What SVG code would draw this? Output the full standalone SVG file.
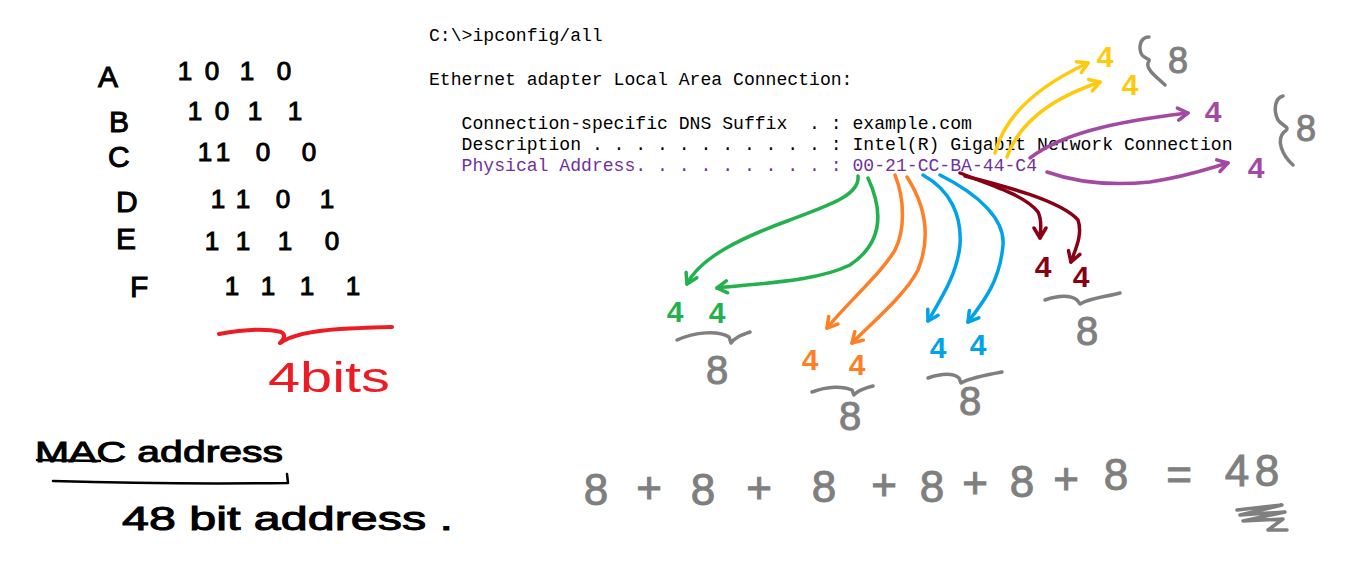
<svg xmlns="http://www.w3.org/2000/svg" width="1352" height="563" viewBox="0 0 1352 563">
<style>
.term{font-family:"Liberation Mono","Courier New",monospace;font-size:18.1px;fill:#000;white-space:pre}
.mac{fill:#7030A0}
.hand{font-family:"Liberation Sans",Arial,sans-serif;fill:#000;stroke:#000;stroke-width:1}
.bin{font-size:26px;text-anchor:middle}
.let{font-size:30px}
.four{font-family:"Liberation Sans",Arial,sans-serif;font-size:30px;font-weight:bold;text-anchor:middle}
.eight{font-family:"Liberation Sans",Arial,sans-serif;font-size:40px;fill:#7F7F7F;stroke:#7F7F7F;stroke-width:1;text-anchor:middle}
.stroke{fill:none;stroke-linecap:round;stroke-linejoin:round}
.arr{fill:none;stroke-width:3.5;stroke-linecap:round;stroke-linejoin:round}
.brace{fill:none;stroke:#7F7F7F;stroke-width:3.5;stroke-linecap:round;stroke-linejoin:round}
</style>
<defs>
<marker id="ah-green" viewBox="0 0 16 16" refX="13" refY="8" markerWidth="16" markerHeight="16" orient="auto" markerUnits="userSpaceOnUse"><path d="M3,2 L13,8 L3,14" fill="none" stroke="#22B14C" stroke-width="3.5" stroke-linecap="round" stroke-linejoin="round"/></marker>
<marker id="ah-orange" viewBox="0 0 16 16" refX="13" refY="8" markerWidth="16" markerHeight="16" orient="auto" markerUnits="userSpaceOnUse"><path d="M3,2 L13,8 L3,14" fill="none" stroke="#FF7F27" stroke-width="3.5" stroke-linecap="round" stroke-linejoin="round"/></marker>
<marker id="ah-blue" viewBox="0 0 16 16" refX="13" refY="8" markerWidth="16" markerHeight="16" orient="auto" markerUnits="userSpaceOnUse"><path d="M3,2 L13,8 L3,14" fill="none" stroke="#00A2E8" stroke-width="3.5" stroke-linecap="round" stroke-linejoin="round"/></marker>
<marker id="ah-dred" viewBox="0 0 16 16" refX="13" refY="8" markerWidth="16" markerHeight="16" orient="auto" markerUnits="userSpaceOnUse"><path d="M3,2 L13,8 L3,14" fill="none" stroke="#880015" stroke-width="3.5" stroke-linecap="round" stroke-linejoin="round"/></marker>
<marker id="ah-yellow" viewBox="0 0 16 16" refX="13" refY="8" markerWidth="16" markerHeight="16" orient="auto" markerUnits="userSpaceOnUse"><path d="M3,2 L13,8 L3,14" fill="none" stroke="#FFC90E" stroke-width="3.5" stroke-linecap="round" stroke-linejoin="round"/></marker>
<marker id="ah-purple" viewBox="0 0 16 16" refX="13" refY="8" markerWidth="16" markerHeight="16" orient="auto" markerUnits="userSpaceOnUse"><path d="M3,2 L13,8 L3,14" fill="none" stroke="#A349A4" stroke-width="3.5" stroke-linecap="round" stroke-linejoin="round"/></marker>
</defs>
<rect width="1352" height="563" fill="#fff"/>

<g id="terminal">
<text class="term" x="429" y="41">C:\&gt;ipconfig/all</text>
<text class="term" x="429" y="84.5">Ethernet adapter Local Area Connection:</text>
<text class="term" x="461.6" y="129" xml:space="preserve">Connection-specific DNS Suffix  . : example.com</text>
<text class="term" x="461.6" y="149.5" xml:space="preserve">Description . . . . . . . . . . . : Intel(R) Gigabit Network Connection</text>
<text class="term mac" x="461.6" y="170.5" xml:space="preserve">Physical Address. . . . . . . . . : 00-21-CC-BA-44-C4</text>
</g>

<g id="hex-table">
<text class="hand let" x="98" y="87">A</text>
<text class="hand let" x="109" y="132">B</text>
<text class="hand let" x="108" y="167">C</text>
<text class="hand let" x="116" y="212">D</text>
<text class="hand let" x="116" y="249">E</text>
<text class="hand let" x="130" y="297">F</text>
<text class="hand bin" x="185 212 247 284" y="80">1010</text>
<text class="hand bin" x="195 222 255 295" y="120">1011</text>
<text class="hand bin" x="205 223 263 309" y="161">1100</text>
<text class="hand bin" x="218 243 283 327" y="208">1101</text>
<text class="hand bin" x="212 243 285 332" y="250">1110</text>
<text class="hand bin" x="232 268 307 353" y="295">1111</text>
<path class="stroke" stroke="#ED1C24" stroke-width="4" d="M219,334 C240,330 265,328 281,332 C287,335 283,340 280,343 C290,336 310,331 340,329 C360,328 380,327 392,327"/>
<text x="268" y="392" textLength="122" lengthAdjust="spacingAndGlyphs" style="font-family:'Liberation Sans',Arial,sans-serif;font-size:42px;fill:#ED1C24">4bits</text>
</g>

<g id="mac-note">
<text class="hand" x="35" y="462" textLength="248" lengthAdjust="spacingAndGlyphs" style="font-size:30px">MAC address</text>
<path class="stroke" stroke="#000" stroke-width="2.5" d="M37,460 L100,461"/>
<path class="stroke" stroke="#000" stroke-width="2.5" d="M53,481 C120,483 200,484 288,483 L287,474"/>
<text class="hand" x="122" y="530" textLength="331" lengthAdjust="spacingAndGlyphs" style="font-size:34px">48 bit address .</text>
</g>

<g id="connectors">
<path class="arr" stroke="#22B14C" marker-end="url(#ah-green)" d="M858,176 C860,195 830,205 790,220 C740,238 700,258 687,284"/>
<path class="arr" stroke="#22B14C" marker-end="url(#ah-green)" d="M868,178 C885,215 880,245 850,265 C815,282 760,283 717,288"/>
<path class="arr" stroke="#FF7F27" marker-end="url(#ah-orange)" d="M895,175 C905,200 905,230 895,250 C880,275 850,300 827,328"/>
<path class="arr" stroke="#FF7F27" marker-end="url(#ah-orange)" d="M907,177 C925,205 932,235 918,270 C905,295 875,320 852,343"/>
<path class="arr" stroke="#00A2E8" marker-end="url(#ah-blue)" d="M923,175 C950,190 962,215 960,245 C957,275 940,300 928,321"/>
<path class="arr" stroke="#00A2E8" marker-end="url(#ah-blue)" d="M940,175 C980,195 1005,220 1003,245 C1000,280 985,300 968,322"/>
<path class="arr" stroke="#880015" marker-end="url(#ah-dred)" d="M960,173 C990,185 1025,195 1038,212 C1043,222 1040,232 1040,238"/>
<path class="arr" stroke="#880015" marker-end="url(#ah-dred)" d="M965,176 C1000,185 1060,200 1078,220 C1083,235 1075,250 1071,262"/>
<path class="arr" stroke="#FFC90E" marker-end="url(#ah-yellow)" d="M995,153 C1005,115 1040,85 1088,63"/>
<path class="arr" stroke="#FFC90E" marker-end="url(#ah-yellow)" d="M1007,157 C1020,120 1055,97 1100,82"/>
<path class="arr" stroke="#A349A4" marker-end="url(#ah-purple)" d="M1030,158 C1060,135 1110,122 1188,113"/>
<path class="arr" stroke="#A349A4" marker-end="url(#ah-purple)" d="M1047,172 C1075,182 1110,186 1150,182 C1190,176 1210,168 1228,163"/>
</g>

<g id="byte-00">
<text class="four" x="675" y="322" fill="#22B14C">4</text>
<text class="four" x="717" y="323" fill="#22B14C">4</text>
<path class="brace" d="M677,340 C695,332 718,330 729,337 L731,343 C735,337 742,335 750,332"/>
<text class="eight" x="717" y="384">8</text>
</g>
<g id="byte-21">
<text class="four" x="810" y="370" fill="#FF7F27">4</text>
<text class="four" x="857" y="375" fill="#FF7F27">4</text>
<path class="brace" d="M812,392 C828,386 843,386 852,390 L854,395 C858,390 865,388 873,386"/>
<text class="eight" x="850" y="430">8</text>
</g>
<g id="byte-CC">
<text class="four" x="938" y="358" fill="#00A2E8">4</text>
<text class="four" x="978" y="355" fill="#00A2E8">4</text>
<path class="brace" d="M928,378 C943,373 953,373 959,378 L961,383 C970,378 985,375 1002,372"/>
<text class="eight" x="970" y="415">8</text>
</g>
<g id="byte-BA">
<text class="four" x="1043" y="277" fill="#880015">4</text>
<text class="four" x="1081" y="287" fill="#880015">4</text>
<path class="brace" d="M1045,300 C1060,295 1070,295 1077,300 L1080,304 C1090,298 1105,297 1120,293"/>
<text class="eight" x="1087" y="345">8</text>
</g>
<g id="byte-44">
<text class="four" x="1105" y="67" fill="#FFC90E">4</text>
<text class="four" x="1130" y="95" fill="#FFC90E">4</text>
<path class="brace" d="M1149,37 C1140,37 1138,48 1142,55 C1146,60 1152,58 1148,63 C1146,70 1158,78 1165,85"/>
<text class="eight" x="1178" y="73" style="font-size:36px">8</text>
</g>
<g id="byte-C4">
<text class="four" x="1213" y="122" fill="#A349A4">4</text>
<text class="four" x="1256" y="178" fill="#A349A4">4</text>
<path class="brace" d="M1283,96 C1275,98 1273,110 1278,120 C1282,126 1292,127 1284,132 C1276,140 1282,155 1293,165"/>
<text class="eight" x="1306" y="141" style="font-size:36px">8</text>
</g>

<g id="sum">
<text class="eight" style="font-size:44px" x="596 649 703 759 824 884 932 975 1022 1066 1116 1179 1237 1267" y="505 503 505 503 502 500 502 498 497 494 490 490 486 486">8+8+8+8+8+8=48</text>
<path class="brace" stroke-width="4" d="M1237,510 L1282,505 L1240,515 L1285,512 L1243,521 L1283,519 L1268,530 L1287,530"/>
</g>
</svg>
